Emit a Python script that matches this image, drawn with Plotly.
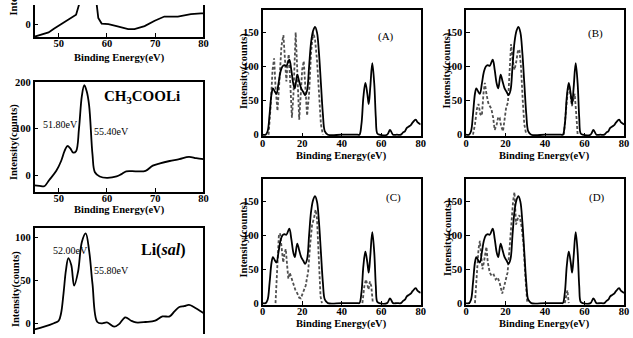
import plotly.graph_objects as go

# ---------------- data ----------------
# Left column, panel 1 (top, cropped)
p1_x = [45, 46.5, 47.9, 49, 50.3, 51.5, 52.4, 53.6, 54.2, 55, 56, 57, 57.9, 58.2, 58.9, 60.3, 62, 64.4, 65.7, 67.8, 69.9, 71.9, 74.7, 77.4, 79.5, 80]
p1_y = [-26, -21, -17, -9, 0, 8, 14, 21, 42, 120, 200, 120, 42, 14, 2, 1, -3.5, -10, -10, -3.5, 8, 17, 17, 22, 24, 24]

# Left column, panel 2: CH3COOLi
p2_x = [45, 46, 47, 48, 49.5, 50.5, 51.2, 51.8, 52.4, 53, 53.6, 54.2, 54.8, 55.3, 55.8, 56.3, 57, 57.5, 58.5, 60, 62, 63, 64, 66, 68, 69.5, 71, 73, 75, 77, 78.5, 80]
p2_y = [-21, -22, -23, -10, 10, 31, 52, 63, 58, 49, 52, 100, 170, 193, 180, 150, 45, 7, -2, -5, -2, 3, 9, 9, 10, 21, 26, 31, 35, 40, 37, 35]

# Left column, panel 3: Li(sal)
p3_x = [45, 47, 49, 50, 50.5, 51, 51.5, 52, 52.6, 53.2, 54, 54.8, 55.6, 56.3, 57, 58, 59, 60, 61.5, 62.5, 63.8, 65, 66, 68, 70, 71.5, 73, 74, 75, 76, 77, 78, 80]
p3_y = [-7, -4, 0, 3, 12, 35, 62, 76, 68, 44, 60, 95, 105, 85, 46, 1.5, 0, 1, -4, -1, 7, 3, 1, 1.5, 3, 8, 8, 14, 19, 20, 21.5, 19, 12]

# Right panels (A)-(D): experimental valence band (solid)
vb_x = [0, 1.5, 2.5, 3.5, 4.5, 5.2, 6, 7, 8, 9, 10, 11, 12, 13.5, 14.5, 15.5, 16.3, 17.5, 18.5, 19.5, 20.5, 21.5, 22.5, 23.5, 24.5, 25.5, 26.5, 27.5, 28.5, 29.5, 30.5, 31.5, 33, 40, 48, 49, 50, 51, 52, 53, 53.7, 54.5, 55.5, 56.5, 57.3, 58, 59, 63, 64.5, 66, 68, 70, 71, 72, 73, 74, 75, 76, 77.5, 78.5, 80]
vb_y = [0, 0, 5, 30, 60, 68, 64, 60, 75, 92, 100, 102, 101, 110, 95, 75, 68, 88, 78, 68, 63, 58, 65, 100, 135, 152, 158, 150, 120, 75, 30, 5, 0, 0, 0, 0, 15, 55, 76, 60, 45, 70, 105, 75, 25, 2, 0, 0, 7, 0, 0, 0, 3, 5, 10, 12, 14, 18, 22, 18, 15]

# Calculated curves (dashed)
dA_x = [3, 4, 5, 5.8, 6.5, 7.5, 8.5, 9.5, 10.5, 11.3, 12, 12.6, 13.2, 13.9, 14.8, 15.6, 16.2, 16.7, 17.3, 18, 18.5, 19.3, 20, 20.8, 21.6, 22.5, 23.5, 24.5, 25.5, 26.5, 27.5, 28.5, 29.5, 30.5]
dA_y = [0, 40, 95, 112, 70, 35, 80, 130, 146, 110, 78, 105, 118, 80, 25, 60, 130, 150, 110, 50, 22, 60, 95, 108, 70, 28, 60, 120, 150, 140, 110, 60, 15, 0]

dB_x = [3.5, 4.5, 5.5, 6.3, 7.2, 8, 8.8, 9.5, 10.3, 11.2, 12, 12.8, 13.7, 14.5, 15.5, 16.3, 17, 17.8, 18.7, 19.5, 20.3, 21.2, 22, 22.8, 23.6, 24.5, 25.3, 26.2, 27, 27.8, 28.7, 29.5, 30.5, None, 49.5, 50.5, 51.5, 52.2, 53, 53.6, 54.2, 55, 55.8, 56.5]
dB_y = [0, 15, 38, 45, 30, 28, 60, 76, 60, 47, 42, 38, 25, 7, 15, 26, 25, 12, 5, 20, 40, 47, 90, 133, 110, 95, 105, 122, 125, 100, 50, 15, 0, None, 0, 30, 65, 72, 55, 42, 50, 60, 30, 0]

dC_x = [6.5, 7.5, 8.2, 8.8, 9.5, 10.4, 11, 11.7, 12.4, 13, 13.7, 14.5, 15.5, 16.5, 17.6, 18.5, 19.3, 20.3, 21.2, 21.8, 22.5, 23, 24, 25, 26, 26.8, 27.5, 28.3, 29.3, 30, None, 50.5, 51.5, 52.3, 53, 53.6, 54.3, 55, 55.8]
dC_y = [0, 70, 100, 103, 85, 60, 72, 80, 55, 36, 45, 38, 30, 20, 14, 8, 7, 14, 22, 26, 38, 45, 85, 115, 126, 138, 125, 70, 10, 0, None, 0, 25, 35, 28, 20, 32, 25, 0]

dD_x = [4.5, 5.5, 6.3, 7, 7.6, 8.3, 9, 9.6, 10.3, 11, 12, 13, 14, 15, 16, 17, 18.3, 19.3, 20.3, 21, 22, 23, 23.8, 24.5, 25.3, 26.2, 27, 28, 29, 30, 31, None, 50, 50.7, 51.3, 52]
dD_y = [0, 45, 80, 92, 70, 50, 60, 75, 83, 60, 45, 40, 42, 35, 38, 30, 14, 25, 35, 45, 80, 120, 150, 164, 116, 125, 130, 115, 90, 40, 0, None, 0, 12, 19, 0]

left_xticks = [50, 60, 70, 80]
right_xticks = [0, 20, 40, 60, 80]
right_yticks = [0, 50, 100, 150]

# ---------------- figure ----------------
W, H = 633, 338
SERIF = "Liberation Serif, Times New Roman, serif"
fig = go.Figure()

solid = dict(color="black", width=1.8)
dashed = dict(color="#505050", width=1.8, dash="3px,2px")

fig.add_trace(go.Scatter(x=p1_x, y=p1_y, mode="lines", line=solid, xaxis="x", yaxis="y"))
fig.add_trace(go.Scatter(x=p2_x, y=p2_y, mode="lines", line=solid, line_shape="spline", xaxis="x2", yaxis="y2"))
fig.add_trace(go.Scatter(x=p3_x, y=p3_y, mode="lines", line=solid, line_shape="spline", xaxis="x3", yaxis="y3"))

for i, (dx, dy) in zip([4, 5, 6, 7], [(dA_x, dA_y), (dB_x, dB_y), (dC_x, dC_y), (dD_x, dD_y)]):
    fig.add_trace(go.Scatter(x=dx, y=dy, mode="lines", line=dashed, connectgaps=False,
                             xaxis=f"x{i}", yaxis=f"y{i}"))
    fig.add_trace(go.Scatter(x=vb_x, y=vb_y, mode="lines", line=solid, line_shape="spline",
                             xaxis=f"x{i}", yaxis=f"y{i}"))

tickfont = dict(family=SERIF, size=10.5, color="black", weight="bold")

def px_x(p):
    return p / W

def px_y(p):
    return 1 - p / H

def axis(domain, rng, tickvals, anchor, mirror=True, showticklabels=True, side=None,
         ticks="inside", standoff=0):
    d = dict(domain=domain, range=rng, tickvals=tickvals, anchor=anchor,
             showline=True, linecolor="black", linewidth=1.5, mirror=mirror,
             ticks=ticks, ticklen=4, tickwidth=1.2, tickcolor="black",
             showgrid=False, zeroline=False, tickfont=tickfont,
             showticklabels=showticklabels, ticklabelstandoff=standoff)
    if side:
        d["side"] = side
    return d

xl = [px_x(32), px_x(203)]
xa = [px_x(263), px_x(423)]
xb = [px_x(469), px_x(629)]
y1 = [px_y(33), 1.0]
y2 = [px_y(192), px_y(79)]
y3 = [0.0, px_y(229)]
yab = [px_y(135), px_y(5)]
ycd = [px_y(308), px_y(179)]

rng_right_y = [-2.5, 183]
XS = -4  # pull x tick labels close to the axis as in the reference

fig.update_layout(
    width=W, height=H, margin=dict(l=0, r=0, t=0, b=0),
    paper_bgcolor="white", plot_bgcolor="white", showlegend=False,
    xaxis=axis(xl, [45, 80], left_xticks, "y", mirror=False, standoff=XS),
    yaxis=axis(y1, [-27, 41.7], [0], "x"),
    xaxis2=axis(xl, [45, 80], left_xticks, "y2", standoff=XS),
    yaxis2=axis(y2, [-35, 200], [0, 100, 200], "x2"),
    xaxis3=axis(xl, [45, 80], left_xticks, "y3", mirror=False, showticklabels=False, side="top", ticks=""),
    yaxis3=axis(y3, [-12.5, 111.4], [0, 50, 100], "x3"),
    xaxis4=axis(xa, [0, 80], right_xticks, "y4", standoff=XS),
    yaxis4=axis(yab, rng_right_y, right_yticks, "x4"),
    xaxis5=axis(xb, [0, 80], right_xticks, "y5", standoff=XS),
    yaxis5=axis(yab, rng_right_y, right_yticks, "x5"),
    xaxis6=axis(xa, [0, 80], right_xticks, "y6", standoff=XS),
    yaxis6=axis(ycd, rng_right_y, right_yticks, "x6"),
    xaxis7=axis(xb, [0, 80], right_xticks, "y7", standoff=XS),
    yaxis7=axis(ycd, rng_right_y, right_yticks, "x7"),
)

ann = []

def text(t, x, y, size=10, bold=False, angle=0, xanchor="center", yanchor="middle"):
    ann.append(dict(text=t, x=px_x(x), y=px_y(y), xref="paper", yref="paper",
                    showarrow=False, textangle=angle, xanchor=xanchor, yanchor=yanchor,
                    font=dict(family=SERIF, size=size, color="black",
                              weight="bold" if bold else "normal")))

# axis titles
text("Binding Energy(eV)", 118, 54, 10.5, True)
text("Binding Energy(eV)", 118, 211, 10.5, True)
text("Binding Energy(eV)", 343, 155, 10.5, True)
text("Binding Energy(eV)", 548, 155, 10.5, True)
text("Binding Energy(eV)", 343, 328, 10.5, True)
text("Binding Energy(eV)", 548, 328, 10.5, True)

text("Intensity(counts)", 11, 13, 10.5, True, angle=-90, yanchor="bottom")
text("Intensity(counts)", 11, 141, 10.5, True, angle=-90)
text("Intensity(counts)", 13, 292, 10.5, True, angle=-90)
text("Intensity(counts)", 244, 68, 10.5, True, angle=-90)
text("Intensity(counts)", 450, 67, 10.5, True, angle=-90)
text("Intensity(counts)", 244, 241, 10.5, True, angle=-90)
text("Intensity(counts)", 450, 239, 10.5, True, angle=-90)

# in-panel labels
text("51.80eV", 58, 123, 10)
text("55.40eV", 110, 130, 10)
text("CH<sub>3</sub>COOLi", 141, 95, 15, True)
text("52.00eV", 68, 252, 10)
text("55.80eV", 110, 273, 10)
text("Li(<i>sal</i>)", 162, 252, 16, True)
text("(A)", 388, 32, 11)
text("(B)", 600, 29, 11)
text("(C)", 395, 198, 11)
text("(D)", 602, 198, 11)

fig.update_layout(annotations=ann)

fig.write_html(
    "out.html",
    config={"displayModeBar": False},
    post_script="document.body.style.margin='0';document.body.style.overflow='hidden';",
)
